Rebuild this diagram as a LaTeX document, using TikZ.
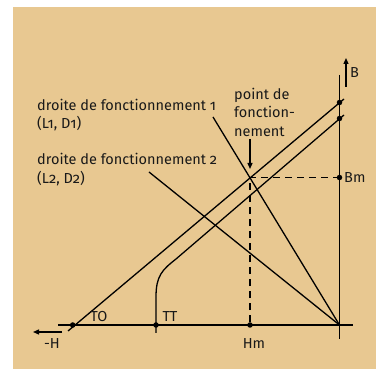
\documentclass[tikz,border=0pt]{standalone}
\usepackage{fontspec}
\setmainfont{Fira Sans}[Numbers=OldStyle]
\usetikzlibrary{arrows.meta}
\definecolor{bg}{RGB}{232,200,145}
\begin{document}
\begin{tikzpicture}[x=1pt,y=-1pt,
  ln/.style={line width=1.3pt,black},
  dot/.style={circle,fill=black,inner sep=0pt,minimum size=5.5pt},
  lab/.style={font=\fontsize{14.5}{18.5}\selectfont,inner sep=0pt,text=black!90},
  arr/.style={ln,-{Triangle[length=6pt,width=5pt]}}]
\useasboundingbox (0,0) rectangle (376,369);
\fill[bg] (13,7) rectangle (376,369);
% axes
\coordinate (hL) at (58,325); \coordinate (hR) at (353,325);
\coordinate (vT) at (339.5,75); \coordinate (vB) at (339.5,339);
\draw[ln] (hL) -- (hR);
\draw[ln] (vT) -- (vB);
\coordinate (O) at (339.5,325);
% axis arrows
\coordinate (bA) at (346,87); \coordinate (bB) at (346,58);
\draw[arr] (bA) -- (bB);
\node[lab,anchor=west] (B) at (350,73) {B};
\coordinate (hA) at (62,332); \coordinate (hB) at (33,332);
\draw[arr] (hA) -- (hB);
\node[lab] (mH) at (52,344) {-H};
% line 1 (TO)
\coordinate (l1a) at (68,331); \coordinate (l1b) at (344,99);
\draw[ln] (l1a) -- (l1b);
\node[dot] (TOd) at (72.7,325) {};
\node[dot] (B1) at (339.5,102.5) {};
\node[lab] (TO) at (99,317) {TO};
% line 2 (TT)
\coordinate (ttB) at (156,333);
\coordinate (l2b) at (344,115);
\draw[ln] (ttB) -- (156,297) .. controls (156,276) and (162,270) .. (176,259) -- (l2b);
\node[dot] (TTd) at (156,325) {};
\node[dot] (B2) at (339.5,118.5) {};
\node[lab] (TT) at (170,317) {TT};
% load lines
\coordinate (d1) at (213,117);
\coordinate (d2) at (149,172);
\draw[ln] (d1) -- (O);
\draw[ln] (d2) -- (O);
% operating point
\coordinate (P) at (250,177.5);
\node[dot] (Hm) at (250,325) {};
\node[dot] (Bm) at (339.5,177.5) {};
\draw[ln,dashed,dash pattern=on 7pt off 5pt] (Hm) -- (P) -- (Bm);
\node[lab] (Hmt) at (254,344) {Hm};
\node[lab,anchor=west] (Bmt) at (344,178) {Bm};
\coordinate (pa) at (250,139); \coordinate (pb) at (250,169);
\draw[arr] (pa) -- (pb);
% texts
\node[lab,anchor=west,align=left] (t1) at (37,115) {droite de fonctionnement 1\\(L1, D1)};
\node[lab,anchor=west,align=left] (t2) at (37,169.5) {droite de fonctionnement 2\\(L2, D2)};
\node[lab,anchor=west,align=left] (t3) at (234,112) {point de\\fonction-\\nement};
\end{tikzpicture}
\end{document}
